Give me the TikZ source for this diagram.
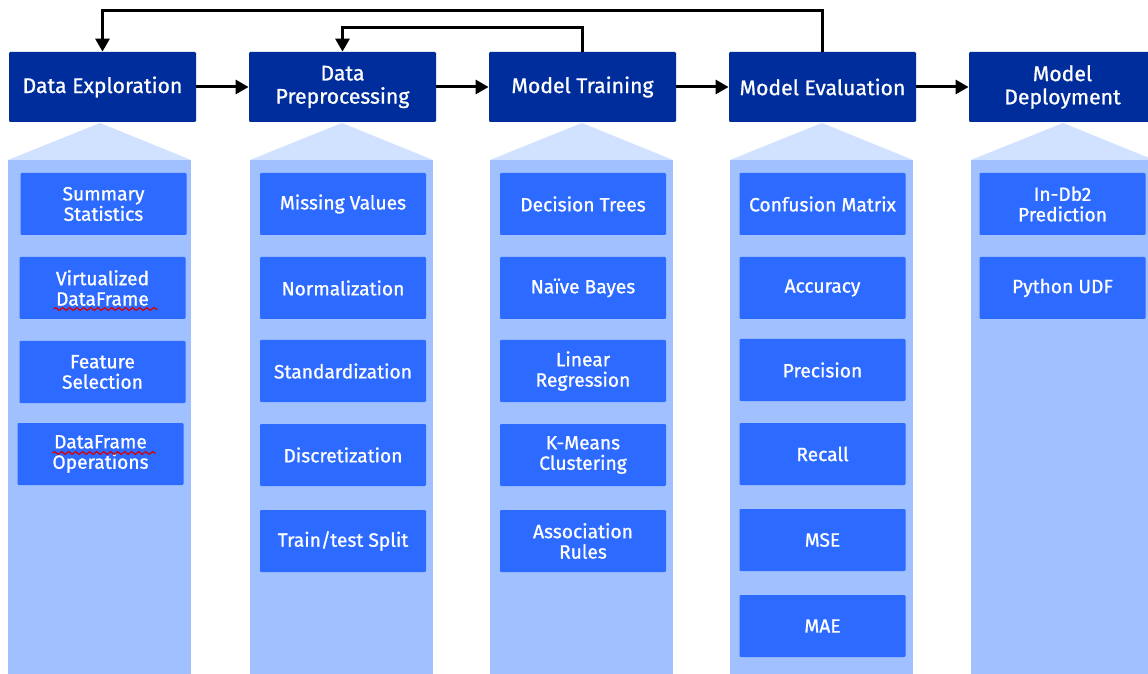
\documentclass[tikz,border=0pt]{standalone}
\usepackage{fontspec}
\setmainfont{Fira Sans}[FakeBold=0.9]
\usetikzlibrary{arrows.meta,calc,decorations.pathmorphing}
\definecolor{stageblue}{HTML}{002D9C}
\definecolor{itemblue}{HTML}{2D6AFF}
\definecolor{laneblue}{HTML}{A0C0FF}
\definecolor{roofblue}{HTML}{D0E2FF}
\tikzset{
	stage/.style={fill=stageblue, text=white, minimum width=93.5pt, minimum height=35pt, inner sep=1pt, align=center, rounded corners=0.6pt, font=\fontsize{10.6}{11.6}\selectfont},
	item/.style={fill=itemblue, text=white, minimum width=83pt, minimum height=31pt, inner sep=1pt, align=center, rounded corners=0.6pt, font=\fontsize{9.6}{10.2}\selectfont},
	flow/.style={line width=1.5pt, -{Triangle[length=6.5pt,width=7pt]}},
	typo/.style={draw=red!85!black, line width=0.6pt, decorate, decoration={snake, segment length=3.5pt, amplitude=0.7pt}}
}
\def\lane(#1){\fill[roofblue] (#1-92,160) -- (#1,123) -- (#1+91,160) -- cycle; \fill[laneblue] (#1-92,160) rectangle (#1+91,690);}

\begin{document}
\begin{tikzpicture}[x=0.5pt,y=-0.5pt]
		\useasboundingbox (0,0) rectangle (1148,674);
		\clip (0,0) rectangle (1148,674);
		\fill[white] (0,0) rectangle (1148,674);
		
		%%%%% LANES %%%%%
		\lane(100);
		\lane(342);
		\lane(582);
		\lane(822);
		\lane(1063);
		
		%%%%% STAGES %%%%%
		\node[stage] (hExpl) at (102.5,87) {Data Exploration};
		\node[stage] (hPrep) at (342.5,87) {Data\\Preprocessing};
		\node[stage] (hTrain) at (582.5,87) {Model Training};
		\node[stage] (hEval) at (822.5,87) {Model Evaluation};
		\node[stage] (hDeploy) at (1062.5,87) {Model\\Deployment};
		
		\draw[flow] (hExpl) -- (hPrep);
		\draw[flow] (hPrep) -- (hTrain);
		\draw[flow] (hTrain) -- (hEval);
		\draw[flow] (hEval) -- (hDeploy);
		\draw[flow] (hEval.north) -- ++(0,-41) -| (hExpl.north);
		\draw[flow] (hTrain.north) -- ++(0,-24) -| (hPrep.north);
		
		%%%%% EXPLORATION %%%%%
		\node[item] (sSumm) at (103.5,204) {Summary\\Statistics};
		\node[item] (sVirt) at (102.5,288) {Virtualized\\DataFrame};
		\node[item] (sFeat) at (102.5,372) {Feature\\Selection};
		\node[item] (sOps) at (100.5,454) {DataFrame\\Operations};
		\draw[typo] ($(sVirt.center)+(-49,21)$) -- ($(sVirt.center)+(55,21)$);
		\draw[typo] ($(sOps.center)+(-48,-1)$) -- ($(sOps.center)+(55,-1)$);
		
		%%%%% PREPROCESSING %%%%%
		\node[item] (pMiss) at (343,204) {Missing Values};
		\node[item] (pNorm) at (343,288) {Normalization};
		\node[item] (pStd) at (343,371) {Standardization};
		\node[item] (pDisc) at (343,455) {Discretization};
		\node[item] (pSplit) at (343,541) {Train/test Split};
		
		%%%%% TRAINING %%%%%
		\node[item] (tTree) at (583,204) {Decision Trees};
		\node[item] (tBayes) at (583,288) {Naïve Bayes};
		\node[item] (tLin) at (583,371) {Linear\\Regression};
		\node[item] (tKm) at (583,455) {K-Means\\Clustering};
		\node[item] (tAssoc) at (583,541) {Association\\Rules};
		
		%%%%% EVALUATION %%%%%
		\node[item] (eConf) at (822.5,204) {Confusion Matrix};
		\node[item] (eAcc) at (822.5,288) {Accuracy};
		\node[item] (ePrec) at (822.5,370) {Precision};
		\node[item] (eRec) at (822.5,454) {Recall};
		\node[item] (eMse) at (822.5,540) {MSE};
		\node[item] (eMae) at (822.5,626) {MAE};
		
		%%%%% DEPLOYMENT %%%%%
		\node[item] (dPred) at (1062.5,204) {In-Db2\\Prediction};
		\node[item] (dUdf) at (1062.5,288) {Python UDF};
		%%%%% END %%%%%
\end{tikzpicture}
\end{document}
